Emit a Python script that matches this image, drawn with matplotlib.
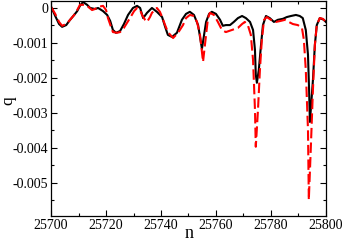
import matplotlib
matplotlib.use("Agg")
import matplotlib.pyplot as plt
from matplotlib.ticker import MultipleLocator, FormatStrFormatter

plt.rcParams['font.family'] = ['Liberation Serif', 'DejaVu Serif']

# black (solid) curve
n_black = [25700, 25701.5, 25702.9, 25704, 25705.5, 25706.9, 25708.4, 25709.5, 25710.5, 25711.6,
           25713.1, 25714.2, 25716, 25717.1, 25718.9, 25720.4, 25721.5, 25722.5, 25723.6, 25725.1,
           25726.5, 25728, 25729.8, 25731.3, 25732.4, 25733.5, 25734.9, 25736.7, 25738.5, 25740.4,
           25741.5, 25742.5, 25744, 25745.8, 25747.6, 25749.1, 25750.5, 25752, 25753.5, 25754.9,
           25756.4, 25757.5, 25758.5, 25760, 25761.5, 25762.5, 25763.6, 25765.1, 25766.5, 25768,
           25769.5, 25770.9, 25772.4, 25773.5, 25774.2, 25774.5, 25774.9, 25775.6, 25776.4, 25777.1,
           25778.2, 25779.6, 25781.1, 25782.5, 25784.4, 25785.8, 25787.3, 25789.1, 25790.5, 25791.6,
           25792.7, 25793.5, 25793.9, 25794.2, 25795.3, 25796, 25796.7, 25797.8, 25799.3, 25800]
q_black = [0.00003, -0.00023, -0.00046, -0.00054, -0.00049, -0.00034, -0.0002, -0.00009, 0.00006, 0.00017,
           0.00009, 0.0, -0.00003, 0.0, -0.00009, -0.0002, -0.00037, -0.00063, -0.00071, -0.00066,
           -0.00046, -0.0002, 0.0, 0.00006, 0.0, -0.00029, -0.00014, 0.0, -0.00011, -0.00026,
           -0.00054, -0.00077, -0.00083, -0.00071, -0.00034, -0.00017, -0.00011, -0.0002, -0.00049, -0.00117,
           -0.0004, -0.00017, -0.00011, -0.00017, -0.00034, -0.00051, -0.00049, -0.00049, -0.0004, -0.00029,
           -0.00023, -0.00029, -0.0004, -0.00063, -0.0012, -0.00191, -0.00214, -0.00177, -0.00106, -0.00049,
           -0.00023, -0.00029, -0.0004, -0.00034, -0.00031, -0.00026, -0.00023, -0.0002, -0.00023, -0.00029,
           -0.00063, -0.00134, -0.00234, -0.00326, -0.00206, -0.00106, -0.00049, -0.00029, -0.00034, -0.0004]

# red (dashed) curve
n_red = [25700, 25701.5, 25702.9, 25704, 25705.5, 25706.9, 25708.4, 25709.5, 25710.5, 25712,
         25713.1, 25714.9, 25716, 25717.1, 25718.9, 25720, 25720.7, 25721.8, 25722.5, 25724,
         25725.1, 25726.5, 25728.7, 25730.2, 25731.3, 25732.4, 25733.1, 25734.2, 25734.9, 25736,
         25736.7, 25738.5, 25739.6, 25740.4, 25741.5, 25742.5, 25744.4, 25746.2, 25748, 25749.1,
         25750.5, 25752, 25753.1, 25754.2, 25755.3, 25756.4, 25757.1, 25757.8, 25759.3, 25760.7,
         25762.2, 25763.6, 25765.8, 25768, 25769.5, 25770.5, 25771.6, 25772.7, 25773.5, 25774.2,
         25774.5, 25775.3, 25776, 25776.7, 25777.5, 25778.5, 25780, 25781.8, 25783.6, 25785.1,
         25786.5, 25788, 25789.8, 25791.3, 25792, 25792.7, 25793.5, 25793.8, 25794.5, 25795.3,
         25796, 25796.7, 25797.8, 25798.9, 25800]
q_red = [0.00003, -0.00017, -0.0004, -0.00051, -0.00046, -0.00034, -0.0002, -0.00006, 0.00009, 0.00009,
         0.00006, -0.00006, -0.00003, 0.00003, 0.00006, -0.00006, -0.00029, -0.00054, -0.00069, -0.00071,
         -0.00069, -0.00057, -0.00029, -0.00009, 0.0, -0.00006, -0.0002, -0.00034, -0.0004, -0.00026,
         -0.00014, 0.0, -0.00011, -0.00026, -0.00049, -0.00069, -0.00086, -0.00071, -0.00049, -0.00029,
         -0.0002, -0.00023, -0.0004, -0.00077, -0.00154, -0.00077, -0.00029, -0.00014, -0.0002, -0.0004,
         -0.00063, -0.00069, -0.00063, -0.00057, -0.00046, -0.0004, -0.00049, -0.00077, -0.00149, -0.00291,
         -0.00397, -0.00291, -0.00177, -0.00091, -0.00034, -0.00026, -0.00034, -0.0004, -0.00037, -0.00034,
         -0.0004, -0.00046, -0.00049, -0.00057, -0.00091, -0.00177, -0.00349, -0.00549, -0.00406, -0.00234,
         -0.00106, -0.00049, -0.00029, -0.00031, -0.0004]

fig = plt.figure(figsize=(3.43, 2.40), dpi=100)
ax = fig.add_axes([0.149, 0.1, 0.801, 0.896])

ax.plot(n_black, q_black, color='black', lw=1.5)
ax.plot(n_red, q_red, color='#ff0000', lw=1.5, dashes=(5, 2))

ax.set_xlim(25700, 25800)
ax.set_ylim(-0.00595, 0.0002)
ax.xaxis.set_major_locator(MultipleLocator(20))
ax.xaxis.set_minor_locator(MultipleLocator(10))
ax.yaxis.set_major_locator(MultipleLocator(0.001))
ax.yaxis.set_minor_locator(MultipleLocator(0.0005))
ax.yaxis.set_major_formatter(FormatStrFormatter('%g'))
ax.xaxis.set_major_formatter(FormatStrFormatter('%d'))

ax.tick_params(which='both', direction='in', top=True, right=True, labelsize=10, pad=2)
ax.tick_params(which='major', length=4, width=0.8)
ax.tick_params(which='minor', length=2, width=0.8)
for s in ax.spines.values():
    s.set_linewidth(0.9)

# axis labels sit right at the figure edges, as in the original
fig.text(189 / 343, 2.5 / 240, 'n', fontsize=13, ha='center', va='baseline')
fig.text(0.0, 1 - 101 / 240, 'q', fontsize=12.5, rotation=90, ha='left', va='center')

fig.savefig('out.png', dpi=100)
